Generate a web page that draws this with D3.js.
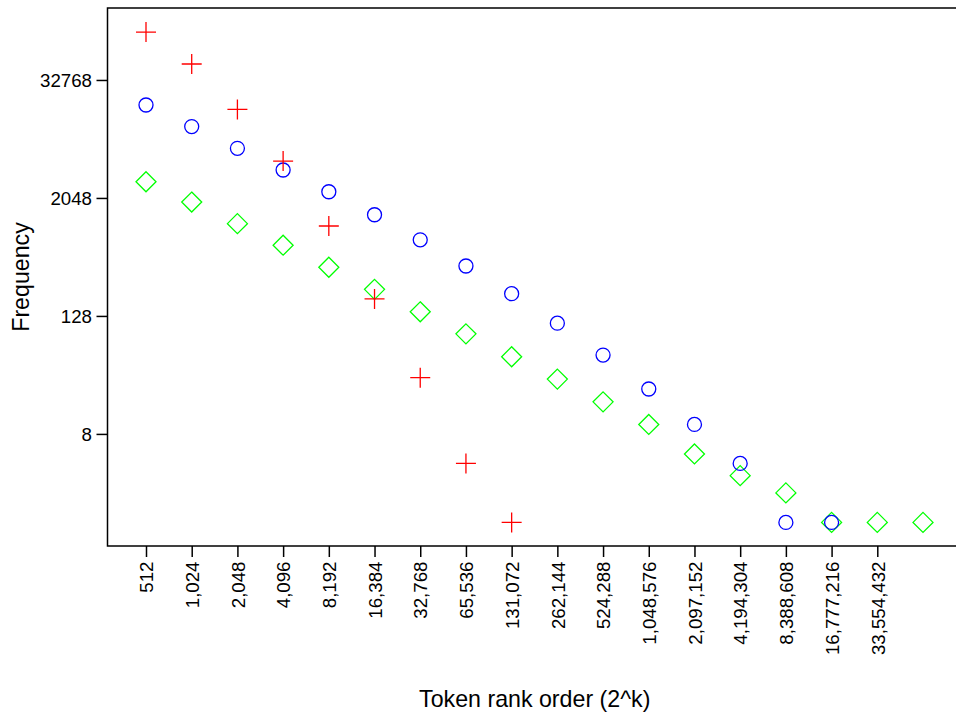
<!DOCTYPE html>
<html>
<head>
<meta charset="utf-8">
<script src="https://cdn.jsdelivr.net/npm/d3@7"></script>
<style>
  html, body { margin: 0; padding: 0; background: #fff; overflow: hidden; }
  svg { display: block; font-family: "Liberation Sans", Arial, Helvetica, sans-serif; }
</style>
</head>
<body>
<svg id="chart" width="956" height="717"></svg>
<script>
// Token rank bins (2^k), k = 9 .. 26
const rankExponents = [9, 10, 11, 12, 13, 14, 15, 16, 17, 18, 19, 20, 21, 22, 23, 24, 25, 26];
// Only the first 17 bins carry a tick label
const rankTickLabels = ["512", "1,024", "2,048", "4,096", "8,192", "16,384", "32,768", "65,536",
  "131,072", "262,144", "524,288", "1,048,576", "2,097,152", "4,194,304", "8,388,608",
  "16,777,216", "33,554,432"];

// Frequency per rank bin, one array per series
const plusFreq    = [101000, 47700, 16400, 4870, 1060, 191, 30, 4, 1];
const circleFreq  = [18200, 10960, 6570, 3950, 2370, 1380, 765, 414, 216, 108, 51, 23, 10, 4, 1, 1];
const diamondFreq = [3000, 1860, 1120, 675, 402, 239, 141, 84, 49, 29, 17, 10, 5, 3, 2, 1, 1, 1];

const yTickValues = [8, 128, 2048, 32768];

const svg = d3.select("#chart");

// Plot region (the frame runs slightly past the right edge of the page)
const plot = { left: 107.5, right: 962, top: 8, bottom: 546 };

const x = d3.scaleLinear().domain([9, 26]).range([146, 923]);
const y = d3.scaleLog().base(2)
  .domain([Math.pow(2, -0.8), Math.pow(2, 17.44)])
  .range([plot.bottom, plot.top]);

// Frame: top, left and bottom edges
svg.append("rect")
  .attr("x", plot.left).attr("y", plot.top)
  .attr("width", plot.right - plot.left).attr("height", plot.bottom - plot.top)
  .attr("fill", "none").attr("stroke", "#000").attr("stroke-width", 1.5);

// X axis ticks with vertical labels
const xAxis = d3.axisBottom(x)
  .tickValues(rankExponents.slice(0, rankTickLabels.length))
  .tickFormat((d, i) => rankTickLabels[i])
  .tickSize(11)
  .tickSizeOuter(0);
const gx = svg.append("g")
  .attr("transform", `translate(0,${plot.bottom})`)
  .call(xAxis);
gx.select(".domain").remove();
gx.selectAll(".tick line").attr("stroke", "#000").attr("stroke-width", 1.5);
gx.selectAll(".tick text")
  .attr("font-size", 18.7)
  .attr("fill", "#000")
  .attr("transform", "rotate(-90)")
  .attr("x", -15.5)
  .attr("y", 0)
  .attr("dy", "0.36em")
  .attr("text-anchor", "end");

// Y axis (log base 2)
const yAxis = d3.axisLeft(y)
  .tickValues(yTickValues)
  .tickFormat(d3.format("d"))
  .tickSize(11)
  .tickSizeOuter(0);
const gy = svg.append("g")
  .attr("transform", `translate(${plot.left},0)`)
  .call(yAxis);
gy.select(".domain").remove();
gy.selectAll(".tick line").attr("stroke", "#000").attr("stroke-width", 1.5);
gy.selectAll(".tick text")
  .attr("font-size", 18.7)
  .attr("fill", "#000")
  .attr("x", -15.5)
  .attr("dy", "0.36em");

// Axis titles
svg.append("text")
  .attr("x", (plot.left + plot.right) / 2)
  .attr("y", 707)
  .attr("text-anchor", "middle")
  .attr("font-size", 23.2)
  .attr("fill", "#000")
  .text("Token rank order (2^k)");

svg.append("text")
  .attr("transform", `translate(28.5,${(plot.top + plot.bottom) / 2}) rotate(-90)`)
  .attr("text-anchor", "middle")
  .attr("font-size", 23.2)
  .attr("fill", "#000")
  .text("Frequency");

const marks = svg.append("g").attr("fill", "none").attr("stroke-width", 1.3);

// Diamonds (green)
marks.append("g").selectAll("path")
  .data(diamondFreq)
  .join("path")
  .attr("stroke", "#00ff00")
  .attr("d", (d, i) => {
    const cx = x(rankExponents[i]), cy = y(d), r = 10;
    return `M${cx},${cy - r}L${cx + r},${cy}L${cx},${cy + r}L${cx - r},${cy}Z`;
  });

// Circles (blue)
marks.append("g").selectAll("circle")
  .data(circleFreq)
  .join("circle")
  .attr("stroke", "#0000ff")
  .attr("cx", (d, i) => x(rankExponents[i]))
  .attr("cy", d => y(d))
  .attr("r", 7);

// Plus signs (red)
marks.append("g").selectAll("path")
  .data(plusFreq)
  .join("path")
  .attr("stroke", "#ff0000")
  .attr("d", (d, i) => {
    const cx = x(rankExponents[i]), cy = y(d), r = 10;
    return `M${cx - r},${cy}L${cx + r},${cy}M${cx},${cy - r}L${cx},${cy + r}`;
  });
</script>
</body>
</html>
